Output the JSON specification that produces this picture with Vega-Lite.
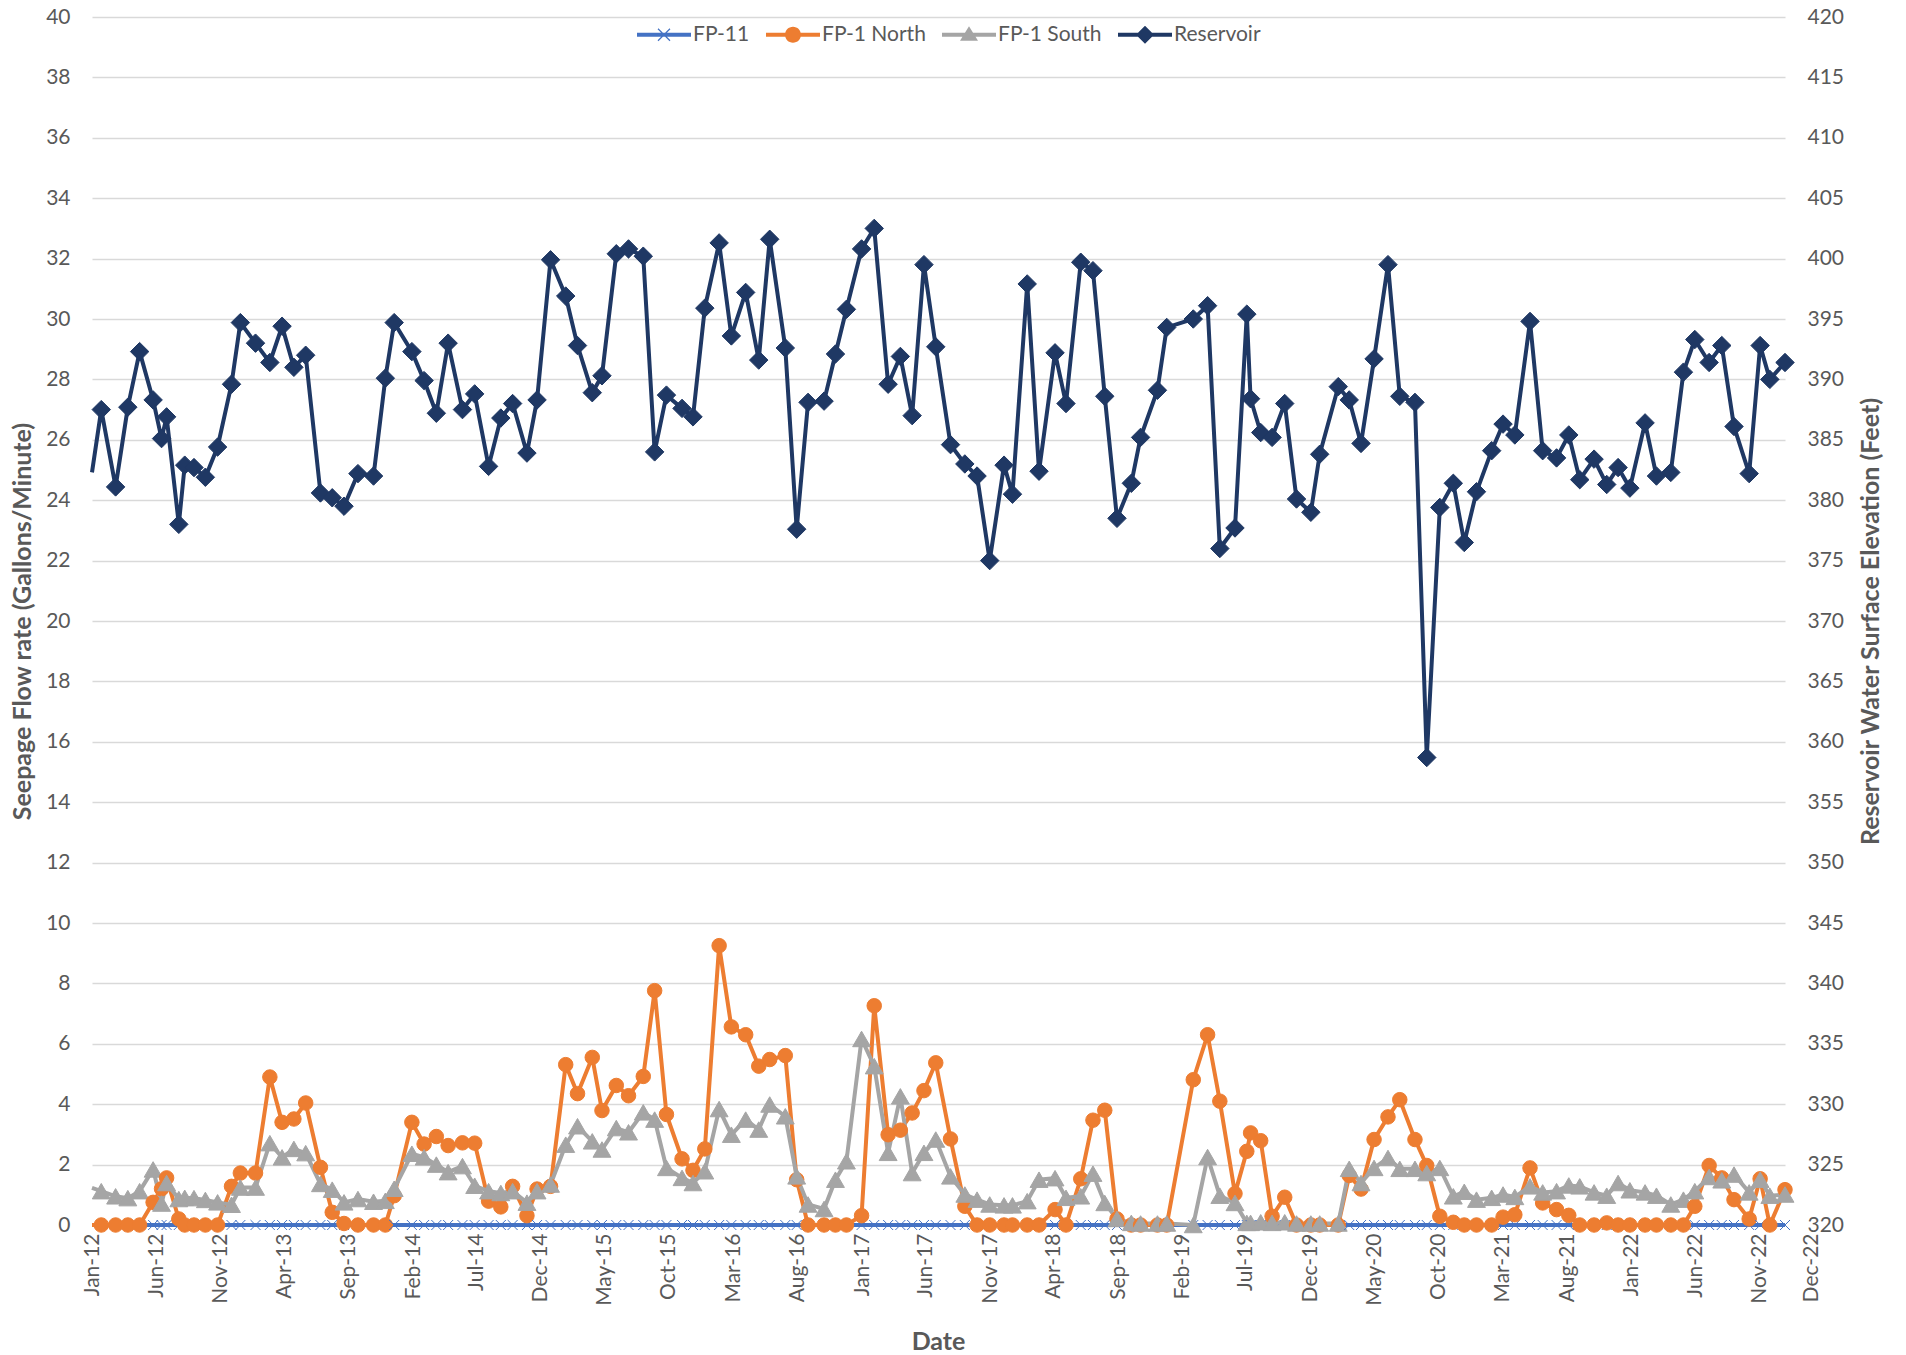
{
  "$schema": "https://vega.github.io/schema/vega-lite/v6.json",
  "width": 1693,
  "height": 1208,
  "autosize": {"type": "none"},
  "padding": {"left": 92, "top": 17, "right": 121, "bottom": 130},
  "background": "white",
  "config": {
    "font": "Lato",
    "view": {"stroke": null},
    "axis": {"labelColor": "#595959", "titleColor": "#595959", "labelFontSize": 21, "titleFontSize": 25, "titleFontWeight": "bold", "gridColor": "#D9D9D9", "gridWidth": 1.3, "domain": false, "ticks": false, "labelFont": "Lato", "titleFont": "Lato"}
  },
  "data": {"values": [
    {"date": "2012-01-01", "FP-11": 0, "FP-1 North": 0, "FP-1 South": 1.23, "Reservoir": 382.3},
    {"date": "2012-01-23", "FP-11": 0, "FP-1 North": 0, "FP-1 South": 1.12, "Reservoir": 387.5},
    {"date": "2012-02-26", "FP-11": 0, "FP-1 North": 0, "FP-1 South": 0.95, "Reservoir": 381.1},
    {"date": "2012-03-26", "FP-11": 0, "FP-1 North": 0, "FP-1 South": 0.89, "Reservoir": 387.7},
    {"date": "2012-04-23", "FP-11": 0, "FP-1 North": 0, "FP-1 South": 1.12, "Reservoir": 392.3},
    {"date": "2012-05-25", "FP-11": 0, "FP-1 North": 0.75, "FP-1 South": 1.84, "Reservoir": 388.3},
    {"date": "2012-06-14", "FP-11": 0, "FP-1 North": 1.2, "FP-1 South": 0.71, "Reservoir": 385.1},
    {"date": "2012-06-26", "FP-11": 0, "FP-1 North": 1.56, "FP-1 South": 1.39, "Reservoir": 386.9},
    {"date": "2012-07-25", "FP-11": 0, "FP-1 North": 0.2, "FP-1 South": 0.86, "Reservoir": 378.0},
    {"date": "2012-08-08", "FP-11": 0, "FP-1 North": 0, "FP-1 South": 0.9, "Reservoir": 382.9},
    {"date": "2012-08-30", "FP-11": 0, "FP-1 North": 0, "FP-1 South": 0.89, "Reservoir": 382.7},
    {"date": "2012-09-26", "FP-11": 0, "FP-1 North": 0, "FP-1 South": 0.83, "Reservoir": 381.9},
    {"date": "2012-10-25", "FP-11": 0, "FP-1 North": 0, "FP-1 South": 0.75, "Reservoir": 384.4},
    {"date": "2012-11-27", "FP-11": 0, "FP-1 North": 1.28, "FP-1 South": 0.67, "Reservoir": 389.6},
    {"date": "2012-12-18", "FP-11": 0, "FP-1 North": 1.72, "FP-1 South": 1.24, "Reservoir": 394.7},
    {"date": "2013-01-23", "FP-11": 0, "FP-1 North": 1.72, "FP-1 South": 1.24, "Reservoir": 393.0},
    {"date": "2013-02-26", "FP-11": 0, "FP-1 North": 4.9, "FP-1 South": 2.71, "Reservoir": 391.4},
    {"date": "2013-03-27", "FP-11": 0, "FP-1 North": 3.4, "FP-1 South": 2.24, "Reservoir": 394.4},
    {"date": "2013-04-24", "FP-11": 0, "FP-1 North": 3.51, "FP-1 South": 2.52, "Reservoir": 391.0},
    {"date": "2013-05-22", "FP-11": 0, "FP-1 North": 4.04, "FP-1 South": 2.38, "Reservoir": 392.0},
    {"date": "2013-06-26", "FP-11": 0, "FP-1 North": 1.91, "FP-1 South": 1.36, "Reservoir": 380.6},
    {"date": "2013-07-24", "FP-11": 0, "FP-1 North": 0.42, "FP-1 South": 1.17, "Reservoir": 380.2},
    {"date": "2013-08-21", "FP-11": 0, "FP-1 North": 0.05, "FP-1 South": 0.75, "Reservoir": 379.5},
    {"date": "2013-09-23", "FP-11": 0, "FP-1 North": 0, "FP-1 South": 0.86, "Reservoir": 382.2},
    {"date": "2013-10-30", "FP-11": 0, "FP-1 North": 0, "FP-1 South": 0.77, "Reservoir": 382.0},
    {"date": "2013-11-27", "FP-11": 0, "FP-1 North": 0, "FP-1 South": 0.8, "Reservoir": 390.1},
    {"date": "2013-12-18", "FP-11": 0, "FP-1 North": 0.97, "FP-1 South": 1.2, "Reservoir": 394.7},
    {"date": "2014-01-29", "FP-11": 0, "FP-1 North": 3.4, "FP-1 South": 2.36, "Reservoir": 392.3},
    {"date": "2014-02-27", "FP-11": 0, "FP-1 North": 2.68, "FP-1 South": 2.24, "Reservoir": 389.9},
    {"date": "2014-03-28", "FP-11": 0, "FP-1 North": 2.93, "FP-1 South": 2.0, "Reservoir": 387.2},
    {"date": "2014-04-25", "FP-11": 0, "FP-1 North": 2.63, "FP-1 South": 1.75, "Reservoir": 393.0},
    {"date": "2014-05-29", "FP-11": 0, "FP-1 North": 2.72, "FP-1 South": 1.95, "Reservoir": 387.5},
    {"date": "2014-06-27", "FP-11": 0, "FP-1 North": 2.71, "FP-1 South": 1.3, "Reservoir": 388.8},
    {"date": "2014-07-30", "FP-11": 0, "FP-1 North": 0.79, "FP-1 South": 1.12, "Reservoir": 382.8},
    {"date": "2014-08-28", "FP-11": 0, "FP-1 North": 0.6, "FP-1 South": 1.06, "Reservoir": 386.8},
    {"date": "2014-09-25", "FP-11": 0, "FP-1 North": 1.28, "FP-1 South": 1.12, "Reservoir": 388.0},
    {"date": "2014-10-29", "FP-11": 0, "FP-1 North": 0.31, "FP-1 South": 0.74, "Reservoir": 383.9},
    {"date": "2014-11-22", "FP-11": 0, "FP-1 North": 1.19, "FP-1 South": 1.12, "Reservoir": 388.3},
    {"date": "2014-12-24", "FP-11": 0, "FP-1 North": 1.28, "FP-1 South": 1.34, "Reservoir": 399.9},
    {"date": "2015-01-29", "FP-11": 0, "FP-1 North": 5.31, "FP-1 South": 2.66, "Reservoir": 396.9},
    {"date": "2015-02-26", "FP-11": 0, "FP-1 North": 4.35, "FP-1 South": 3.27, "Reservoir": 392.8},
    {"date": "2015-04-02", "FP-11": 0, "FP-1 North": 5.55, "FP-1 South": 2.77, "Reservoir": 388.9},
    {"date": "2015-04-25", "FP-11": 0, "FP-1 North": 3.79, "FP-1 South": 2.5, "Reservoir": 390.3},
    {"date": "2015-05-29", "FP-11": 0, "FP-1 North": 4.62, "FP-1 South": 3.21, "Reservoir": 400.4},
    {"date": "2015-06-27", "FP-11": 0, "FP-1 North": 4.28, "FP-1 South": 3.07, "Reservoir": 400.8},
    {"date": "2015-08-01", "FP-11": 0, "FP-1 North": 4.92, "FP-1 South": 3.73, "Reservoir": 400.2},
    {"date": "2015-08-28", "FP-11": 0, "FP-1 North": 7.76, "FP-1 South": 3.49, "Reservoir": 384.0},
    {"date": "2015-09-25", "FP-11": 0, "FP-1 North": 3.66, "FP-1 South": 1.89, "Reservoir": 388.7},
    {"date": "2015-11-01", "FP-11": 0, "FP-1 North": 2.19, "FP-1 South": 1.56, "Reservoir": 387.6},
    {"date": "2015-11-27", "FP-11": 0, "FP-1 North": 1.81, "FP-1 South": 1.39, "Reservoir": 386.9},
    {"date": "2015-12-25", "FP-11": 0, "FP-1 North": 2.52, "FP-1 South": 1.78, "Reservoir": 395.9},
    {"date": "2016-01-28", "FP-11": 0, "FP-1 North": 9.25, "FP-1 South": 3.84, "Reservoir": 401.3},
    {"date": "2016-02-26", "FP-11": 0, "FP-1 North": 6.56, "FP-1 South": 2.99, "Reservoir": 393.6},
    {"date": "2016-03-31", "FP-11": 0, "FP-1 North": 6.3, "FP-1 South": 3.49, "Reservoir": 397.2},
    {"date": "2016-05-01", "FP-11": 0, "FP-1 North": 5.26, "FP-1 South": 3.16, "Reservoir": 391.6},
    {"date": "2016-05-27", "FP-11": 0, "FP-1 North": 5.48, "FP-1 South": 3.99, "Reservoir": 401.6},
    {"date": "2016-07-03", "FP-11": 0, "FP-1 North": 5.61, "FP-1 South": 3.6, "Reservoir": 392.6},
    {"date": "2016-07-30", "FP-11": 0, "FP-1 North": 1.5, "FP-1 South": 1.61, "Reservoir": 377.6},
    {"date": "2016-08-26", "FP-11": 0, "FP-1 North": 0, "FP-1 South": 0.68, "Reservoir": 388.1},
    {"date": "2016-10-03", "FP-11": 0, "FP-1 North": 0, "FP-1 South": 0.53, "Reservoir": 388.2},
    {"date": "2016-10-30", "FP-11": 0, "FP-1 North": 0, "FP-1 South": 1.5, "Reservoir": 392.1},
    {"date": "2016-11-25", "FP-11": 0, "FP-1 North": 0, "FP-1 South": 2.11, "Reservoir": 395.8},
    {"date": "2016-12-31", "FP-11": 0, "FP-1 North": 0.31, "FP-1 South": 6.16, "Reservoir": 400.8},
    {"date": "2017-01-30", "FP-11": 0, "FP-1 North": 7.26, "FP-1 South": 5.26, "Reservoir": 402.5},
    {"date": "2017-03-04", "FP-11": 0, "FP-1 North": 2.99, "FP-1 South": 2.39, "Reservoir": 389.6},
    {"date": "2017-04-02", "FP-11": 0, "FP-1 North": 3.14, "FP-1 South": 4.26, "Reservoir": 391.9},
    {"date": "2017-04-30", "FP-11": 0, "FP-1 North": 3.71, "FP-1 South": 1.72, "Reservoir": 387.0},
    {"date": "2017-05-28", "FP-11": 0, "FP-1 North": 4.45, "FP-1 South": 2.39, "Reservoir": 399.5},
    {"date": "2017-06-25", "FP-11": 0, "FP-1 North": 5.37, "FP-1 South": 2.83, "Reservoir": 392.7},
    {"date": "2017-07-30", "FP-11": 0, "FP-1 North": 2.85, "FP-1 South": 1.61, "Reservoir": 384.6},
    {"date": "2017-09-02", "FP-11": 0, "FP-1 North": 0.62, "FP-1 South": 1.01, "Reservoir": 383.0},
    {"date": "2017-10-01", "FP-11": 0, "FP-1 North": 0, "FP-1 South": 0.84, "Reservoir": 382.0},
    {"date": "2017-10-31", "FP-11": 0, "FP-1 North": 0, "FP-1 South": 0.68, "Reservoir": 375.0},
    {"date": "2017-12-04", "FP-11": 0, "FP-1 North": 0, "FP-1 South": 0.65, "Reservoir": 382.9},
    {"date": "2017-12-24", "FP-11": 0, "FP-1 North": 0, "FP-1 South": 0.65, "Reservoir": 380.5},
    {"date": "2018-01-28", "FP-11": 0, "FP-1 North": 0, "FP-1 South": 0.79, "Reservoir": 397.9},
    {"date": "2018-02-25", "FP-11": 0, "FP-1 North": 0, "FP-1 South": 1.5, "Reservoir": 382.4},
    {"date": "2018-04-04", "FP-11": 0, "FP-1 North": 0.51, "FP-1 South": 1.55, "Reservoir": 392.2},
    {"date": "2018-04-30", "FP-11": 0, "FP-1 North": 0, "FP-1 South": 0.9, "Reservoir": 388.0},
    {"date": "2018-06-04", "FP-11": 0, "FP-1 North": 1.53, "FP-1 South": 0.95, "Reservoir": 399.7},
    {"date": "2018-07-03", "FP-11": 0, "FP-1 North": 3.47, "FP-1 South": 1.7, "Reservoir": 399.0},
    {"date": "2018-07-31", "FP-11": 0, "FP-1 North": 3.8, "FP-1 South": 0.73, "Reservoir": 388.6},
    {"date": "2018-08-29", "FP-11": 0, "FP-1 North": 0.2, "FP-1 South": 0.2, "Reservoir": 378.5},
    {"date": "2018-10-02", "FP-11": 0, "FP-1 North": 0, "FP-1 South": 0.07, "Reservoir": 381.4},
    {"date": "2018-10-24", "FP-11": 0, "FP-1 North": 0, "FP-1 South": 0.05, "Reservoir": 385.2},
    {"date": "2018-12-03", "FP-11": 0, "FP-1 North": 0, "FP-1 South": 0.05, "Reservoir": 389.1},
    {"date": "2018-12-25", "FP-11": 0, "FP-1 North": 0, "FP-1 South": 0.05, "Reservoir": 394.3},
    {"date": "2019-02-26", "FP-11": 0, "FP-1 North": 4.81, "FP-1 South": 0, "Reservoir": 395.0},
    {"date": "2019-04-01", "FP-11": 0, "FP-1 North": 6.3, "FP-1 South": 2.25, "Reservoir": 396.1},
    {"date": "2019-04-30", "FP-11": 0, "FP-1 North": 4.1, "FP-1 South": 0.97, "Reservoir": 376.0},
    {"date": "2019-06-05", "FP-11": 0, "FP-1 North": 1.04, "FP-1 South": 0.73, "Reservoir": 377.7},
    {"date": "2019-07-03", "FP-11": 0, "FP-1 North": 2.44, "FP-1 South": 0.07, "Reservoir": 395.4},
    {"date": "2019-07-12", "FP-11": 0, "FP-1 North": 3.05, "FP-1 South": 0.07, "Reservoir": 388.4},
    {"date": "2019-08-05", "FP-11": 0, "FP-1 North": 2.79, "FP-1 South": 0.09, "Reservoir": 385.6},
    {"date": "2019-09-01", "FP-11": 0, "FP-1 North": 0.29, "FP-1 South": 0.07, "Reservoir": 385.2},
    {"date": "2019-10-01", "FP-11": 0, "FP-1 North": 0.92, "FP-1 South": 0.09, "Reservoir": 388.0},
    {"date": "2019-10-29", "FP-11": 0, "FP-1 North": 0, "FP-1 South": 0.05, "Reservoir": 380.1},
    {"date": "2019-12-02", "FP-11": 0, "FP-1 North": 0, "FP-1 South": 0.05, "Reservoir": 379.0},
    {"date": "2019-12-23", "FP-11": 0, "FP-1 North": 0, "FP-1 South": 0.05, "Reservoir": 383.8},
    {"date": "2020-02-05", "FP-11": 0, "FP-1 North": 0, "FP-1 South": 0.05, "Reservoir": 389.4},
    {"date": "2020-03-02", "FP-11": 0, "FP-1 North": 1.64, "FP-1 South": 1.86, "Reservoir": 388.3},
    {"date": "2020-03-30", "FP-11": 0, "FP-1 North": 1.19, "FP-1 South": 1.39, "Reservoir": 384.7},
    {"date": "2020-04-30", "FP-11": 0, "FP-1 North": 2.83, "FP-1 South": 1.89, "Reservoir": 391.7},
    {"date": "2020-06-02", "FP-11": 0, "FP-1 North": 3.58, "FP-1 South": 2.22, "Reservoir": 399.5},
    {"date": "2020-06-30", "FP-11": 0, "FP-1 North": 4.15, "FP-1 South": 1.86, "Reservoir": 388.6},
    {"date": "2020-08-05", "FP-11": 0, "FP-1 North": 2.83, "FP-1 South": 1.86, "Reservoir": 388.1},
    {"date": "2020-09-02", "FP-11": 0, "FP-1 North": 1.97, "FP-1 South": 1.72, "Reservoir": 358.7},
    {"date": "2020-10-03", "FP-11": 0, "FP-1 North": 0.29, "FP-1 South": 1.89, "Reservoir": 379.4},
    {"date": "2020-11-04", "FP-11": 0, "FP-1 North": 0.09, "FP-1 South": 0.95, "Reservoir": 381.4},
    {"date": "2020-11-30", "FP-11": 0, "FP-1 North": 0, "FP-1 South": 1.1, "Reservoir": 376.5},
    {"date": "2020-12-29", "FP-11": 0, "FP-1 North": 0, "FP-1 South": 0.84, "Reservoir": 380.7},
    {"date": "2021-02-03", "FP-11": 0, "FP-1 North": 0, "FP-1 South": 0.9, "Reservoir": 384.1},
    {"date": "2021-03-02", "FP-11": 0, "FP-1 North": 0.26, "FP-1 South": 1.01, "Reservoir": 386.3},
    {"date": "2021-03-30", "FP-11": 0, "FP-1 North": 0.34, "FP-1 South": 0.93, "Reservoir": 385.4},
    {"date": "2021-05-05", "FP-11": 0, "FP-1 North": 1.89, "FP-1 South": 1.28, "Reservoir": 394.8},
    {"date": "2021-06-04", "FP-11": 0, "FP-1 North": 0.73, "FP-1 South": 1.08, "Reservoir": 384.1},
    {"date": "2021-07-07", "FP-11": 0, "FP-1 North": 0.51, "FP-1 South": 1.12, "Reservoir": 383.5},
    {"date": "2021-08-05", "FP-11": 0, "FP-1 North": 0.32, "FP-1 South": 1.31, "Reservoir": 385.4},
    {"date": "2021-08-31", "FP-11": 0, "FP-1 North": 0, "FP-1 South": 1.28, "Reservoir": 381.7},
    {"date": "2021-10-04", "FP-11": 0, "FP-1 North": 0, "FP-1 South": 1.08, "Reservoir": 383.4},
    {"date": "2021-11-03", "FP-11": 0, "FP-1 North": 0.07, "FP-1 South": 0.97, "Reservoir": 381.3},
    {"date": "2021-11-30", "FP-11": 0, "FP-1 North": 0, "FP-1 South": 1.39, "Reservoir": 382.7},
    {"date": "2021-12-28", "FP-11": 0, "FP-1 North": 0, "FP-1 South": 1.15, "Reservoir": 381.0},
    {"date": "2022-02-02", "FP-11": 0, "FP-1 North": 0, "FP-1 South": 1.08, "Reservoir": 386.4},
    {"date": "2022-03-01", "FP-11": 0, "FP-1 North": 0, "FP-1 South": 0.97, "Reservoir": 382.0},
    {"date": "2022-04-04", "FP-11": 0, "FP-1 North": 0, "FP-1 South": 0.68, "Reservoir": 382.3},
    {"date": "2022-05-04", "FP-11": 0, "FP-1 North": 0, "FP-1 South": 0.84, "Reservoir": 390.6},
    {"date": "2022-05-31", "FP-11": 0, "FP-1 North": 0.62, "FP-1 South": 1.12, "Reservoir": 393.3},
    {"date": "2022-07-04", "FP-11": 0, "FP-1 North": 1.97, "FP-1 South": 1.59, "Reservoir": 391.4},
    {"date": "2022-08-03", "FP-11": 0, "FP-1 North": 1.56, "FP-1 South": 1.48, "Reservoir": 392.8},
    {"date": "2022-09-01", "FP-11": 0, "FP-1 North": 0.84, "FP-1 South": 1.67, "Reservoir": 386.1},
    {"date": "2022-10-07", "FP-11": 0, "FP-1 North": 0.2, "FP-1 South": 1.08, "Reservoir": 382.2},
    {"date": "2022-11-02", "FP-11": 0, "FP-1 North": 1.53, "FP-1 South": 1.5, "Reservoir": 392.8},
    {"date": "2022-11-25", "FP-11": 0, "FP-1 North": 0, "FP-1 South": 0.97, "Reservoir": 390.0},
    {"date": "2022-12-31", "FP-11": 0, "FP-1 North": 1.17, "FP-1 South": 1.01, "Reservoir": 391.4}
  ]},
  "transform": [{"fold": ["FP-11", "FP-1 North", "FP-1 South", "Reservoir"], "as": ["series", "value"]}],
  "encoding": {
    "x": {
      "field": "date", "type": "temporal",
      "scale": {"domain": [{"year": 2012, "month": 1, "date": 1}, {"year": 2022, "month": 12, "date": 31}]},
      "axis": {
        "title": "Date",
        "format": "%b-%y",
        "values": [
          {"year": 2012, "month": 1, "date": 1}, {"year": 2012, "month": 6, "date": 1}, {"year": 2012, "month": 11, "date": 1},
          {"year": 2013, "month": 4, "date": 1}, {"year": 2013, "month": 9, "date": 1}, {"year": 2014, "month": 2, "date": 1},
          {"year": 2014, "month": 7, "date": 1}, {"year": 2014, "month": 12, "date": 1}, {"year": 2015, "month": 5, "date": 1},
          {"year": 2015, "month": 10, "date": 1}, {"year": 2016, "month": 3, "date": 1}, {"year": 2016, "month": 8, "date": 1},
          {"year": 2017, "month": 1, "date": 1}, {"year": 2017, "month": 6, "date": 1}, {"year": 2017, "month": 11, "date": 1},
          {"year": 2018, "month": 4, "date": 1}, {"year": 2018, "month": 9, "date": 1}, {"year": 2019, "month": 2, "date": 1},
          {"year": 2019, "month": 7, "date": 1}, {"year": 2019, "month": 12, "date": 1}, {"year": 2020, "month": 5, "date": 1},
          {"year": 2020, "month": 10, "date": 1}, {"year": 2021, "month": 3, "date": 1}, {"year": 2021, "month": 8, "date": 1},
          {"year": 2022, "month": 1, "date": 1}, {"year": 2022, "month": 6, "date": 1}, {"year": 2022, "month": 11, "date": 1},
          {"year": 2022, "month": 12, "date": 31}
        ],
        "labelAngle": 270,
        "labelAlign": "right",
        "labelBaseline": "middle",
        "labelPadding": 8,
        "labelOverlap": false,
        "labelFlush": false,
        "labelBound": false,
        "labelOffset": {"condition": {"test": "datum.value > datetime(2022, 11, 15)", "value": 26}, "value": 0},
        "grid": false,
        "titleX": 846,
        "titleY": 116,
        "titleAlign": "center",
        "titleBaseline": "middle"
      }
    },
    "color": {
      "field": "series", "type": "nominal",
      "scale": {"domain": ["FP-11", "FP-1 North", "FP-1 South", "Reservoir"], "range": ["#4472C4", "#ED7D31", "#A5A5A5", "#1F3864"]},
      "legend": {
        "orient": "none", "legendX": 541, "legendY": 7, "direction": "horizontal", "title": null,
        "symbolSize": 100, "symbolOffset": 20.5, "labelOffset": 18.5, "labelFontSize": 21, "labelColor": "#595959", "labelFont": "Lato",
        "columnPadding": 12, "padding": 0, "symbolStrokeWidth": 0,
        "encode": {"symbols": {"update": {
          "shape": {"signal": "datum.value === 'FP-11' ? 'M-5.4,-0.4H5.4V0.4H-5.4ZM-1.115,-1.285L1.285,1.115L1.115,1.285L-1.285,-1.115ZM-1.115,1.285L-1.285,1.115L1.115,-1.285L1.285,-1.115Z' : datum.value === 'FP-1 North' ? 'M-5.4,-0.4H5.4V0.4H-5.4ZM1.6,0A1.6,1.6 0 1,1 -1.6,0A1.6,1.6 0 1,1 1.6,0Z' : datum.value === 'FP-1 South' ? 'M-5.4,-0.4H5.4V0.4H-5.4ZM0,-1.7L1.8,1.2L-1.8,1.2Z' : 'M-5.4,-0.4H5.4V0.4H-5.4ZM0,-1.8L1.8,0L0,1.8L-1.8,0Z'"},
          "fill": {"scale": "color", "field": "value"},
          "strokeWidth": {"value": 0},
          "opacity": {"value": 1}
        }}}
      }
    }
  },
  "layer": [
    {
      "transform": [{"filter": "datum.series !== 'Reservoir'"}],
      "encoding": {
        "y": {
          "field": "value", "type": "quantitative",
          "scale": {"domain": [0, 40], "nice": false},
          "axis": {
            "orient": "left", "title": "Seepage Flow rate (Gallons/Minute)",
            "values": [0, 2, 4, 6, 8, 10, 12, 14, 16, 18, 20, 22, 24, 26, 28, 30, 32, 34, 36, 38, 40],
            "grid": true, "labelPadding": 22,
            "titleAngle": 270, "titleX": -70, "titleY": 604, "titleAlign": "center", "titleBaseline": "middle"
          }
        }
      },
      "layer": [
        {"mark": {"type": "line", "strokeWidth": 4}},
        {
          "transform": [{"filter": "datum.date > datetime(2012, 0, 2)"}],
          "mark": {"type": "point", "filled": true, "opacity": 1, "strokeWidth": 1},
          "encoding": {
            "shape": {"field": "series", "type": "nominal", "scale": {"domain": ["FP-11", "FP-1 North", "FP-1 South"], "range": ["M-1,-1L1,1M-1,1L1,-1", "circle", "triangle-up"]}, "legend": null},
            "size": {"field": "series", "type": "nominal", "scale": {"domain": ["FP-11", "FP-1 North", "FP-1 South"], "range": [100, 320, 360]}, "legend": null},
            "stroke": {"field": "series", "type": "nominal", "scale": {"domain": ["FP-11", "FP-1 North", "FP-1 South"], "range": ["#4472C4", "#ED7D31", "#A5A5A5"]}, "legend": null}
          }
        }
      ]
    },
    {
      "transform": [{"filter": "datum.series === 'Reservoir'"}],
      "encoding": {
        "y": {
          "field": "value", "type": "quantitative",
          "scale": {"domain": [320, 420], "nice": false, "zero": false},
          "axis": {
            "orient": "right", "title": "Reservoir Water Surface Elevation (Feet)",
            "values": [320, 325, 330, 335, 340, 345, 350, 355, 360, 365, 370, 375, 380, 385, 390, 395, 400, 405, 410, 415, 420],
            "grid": false, "labelPadding": 22,
            "titleAngle": 270, "titleX": 85, "titleY": 604, "titleAlign": "center", "titleBaseline": "middle"
          }
        }
      },
      "layer": [
        {"mark": {"type": "line", "strokeWidth": 4}},
        {
          "transform": [{"filter": "datum.date > datetime(2012, 0, 2)"}],
          "mark": {"type": "point", "shape": "diamond", "filled": true, "opacity": 1, "size": 340, "strokeWidth": 1, "stroke": "#1F3864"}
        }
      ]
    }
  ],
  "resolve": {"scale": {"y": "independent"}}
}
